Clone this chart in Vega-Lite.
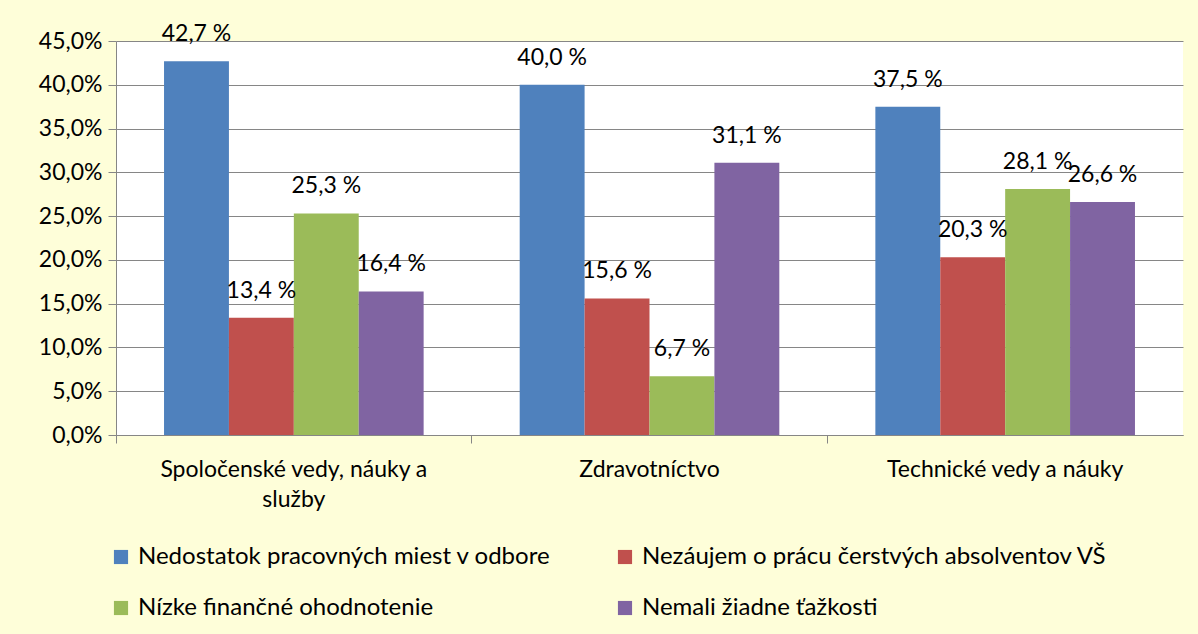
{
  "$schema": "https://vega.github.io/schema/vega-lite/v6.json",
  "autosize": {"type": "none"},
  "width": 1067,
  "height": 394,
  "padding": {"left": 116, "top": 41, "right": 15, "bottom": 199},
  "background": "#FEFED9",
  "config": {
    "view": {"fill": "#FFFFFF", "stroke": null},
    "font": "Lato",
    "axis": {"labelFont": "Lato", "labelColor": "#000000"}
  },
  "data": {
    "values": [
      {"odbor": "Spoločenské vedy, náuky a služby", "dovod": "Nedostatok pracovných miest v odbore", "value": 0.427},
      {"odbor": "Spoločenské vedy, náuky a služby", "dovod": "Nezáujem o prácu čerstvých absolventov VŠ", "value": 0.134},
      {"odbor": "Spoločenské vedy, náuky a služby", "dovod": "Nízke finančné ohodnotenie", "value": 0.253},
      {"odbor": "Spoločenské vedy, náuky a služby", "dovod": "Nemali žiadne ťažkosti", "value": 0.164},
      {"odbor": "Zdravotníctvo", "dovod": "Nedostatok pracovných miest v odbore", "value": 0.400},
      {"odbor": "Zdravotníctvo", "dovod": "Nezáujem o prácu čerstvých absolventov VŠ", "value": 0.156},
      {"odbor": "Zdravotníctvo", "dovod": "Nízke finančné ohodnotenie", "value": 0.067},
      {"odbor": "Zdravotníctvo", "dovod": "Nemali žiadne ťažkosti", "value": 0.311},
      {"odbor": "Technické vedy a náuky", "dovod": "Nedostatok pracovných miest v odbore", "value": 0.375},
      {"odbor": "Technické vedy a náuky", "dovod": "Nezáujem o prácu čerstvých absolventov VŠ", "value": 0.203},
      {"odbor": "Technické vedy a náuky", "dovod": "Nízke finančné ohodnotenie", "value": 0.281},
      {"odbor": "Technické vedy a náuky", "dovod": "Nemali žiadne ťažkosti", "value": 0.266}
    ]
  },
  "transform": [
    {"calculate": "replace(format(datum.value * 100, '.1f'), '.', ',') + ' %'", "as": "lbl"}
  ],
  "encoding": {
    "x": {
      "field": "odbor", "type": "nominal", "sort": null,
      "scale": {"paddingInner": 0, "paddingOuter": 0},
      "axis": {
        "title": null, "labelAngle": 0, "ticks": true, "bandPosition": 0,
        "tickSize": 8, "tickColor": "#868686", "domainColor": "#868686",
        "labelFontSize": 23, "labelPadding": 15, "labelLineHeight": 30, "labelLimit": 500,
        "labelExpr": "datum.value == 'Spoločenské vedy, náuky a služby' ? ['Spoločenské vedy, náuky a', 'služby'] : datum.label"
      }
    },
    "xOffset": {
      "field": "dovod", "type": "nominal", "sort": null,
      "scale": {"paddingInner": 0, "paddingOuter": 0.74}
    },
    "y": {
      "field": "value", "type": "quantitative",
      "scale": {"domain": [0, 0.45], "nice": false},
      "axis": {
        "title": null, "values": [0, 0.05, 0.1, 0.15, 0.2, 0.25, 0.3, 0.35, 0.4, 0.45],
        "labelExpr": "replace(format(datum.value, '.1%'), '.', ',')",
        "labelFontSize": 23, "labelPadding": 6, "tickSize": 8,
        "tickColor": "#868686", "domainColor": "#868686",
        "gridColor": "#868686", "gridWidth": 1.2
      }
    }
  },
  "layer": [
    {
      "mark": {"type": "bar"},
      "encoding": {
        "color": {
          "field": "dovod", "type": "nominal", "sort": null,
          "scale": {
            "domain": ["Nedostatok pracovných miest v odbore", "Nezáujem o prácu čerstvých absolventov VŠ", "Nízke finančné ohodnotenie", "Nemali žiadne ťažkosti"],
            "range": ["#4F81BD", "#C0504D", "#9BBB59", "#8064A2"]
          },
          "legend": {
            "title": null, "orient": "none", "legendX": -7, "legendY": 504,
            "direction": "horizontal", "columns": 2, "columnPadding": 62, "rowPadding": 27,
            "symbolType": "square", "symbolSize": 200, "symbolStrokeWidth": 0,
            "labelFontSize": 24, "labelFont": "Lato", "labelColor": "#000000",
            "labelLimit": 600, "labelOffset": 5
          }
        }
      }
    },
    {
      "mark": {"type": "text", "dy": -27, "fontSize": 23, "color": "#000000"},
      "encoding": {"text": {"field": "lbl"}}
    }
  ]
}
